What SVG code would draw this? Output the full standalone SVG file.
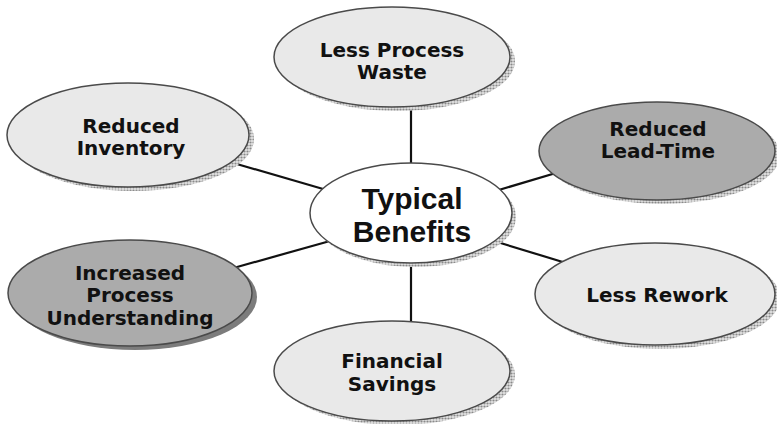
<svg xmlns="http://www.w3.org/2000/svg" width="777" height="424" viewBox="0 0 777 424">
  <defs>
    <pattern id="dots" width="3" height="3" patternUnits="userSpaceOnUse">
      <rect width="3" height="3" fill="#e4e4e4"/>
      <circle cx="1.5" cy="1.5" r="1.1" fill="#8a8a8a"/>
    </pattern>
    <style>
      .light { fill: #e9e9e9; stroke: #4a4a4a; stroke-width: 1.5; }
      .dark { fill: #ababab; stroke: #4a4a4a; stroke-width: 1.5; }
      .white { fill: #ffffff; stroke: #4a4a4a; stroke-width: 1.5; }
      .shadow { fill: url(#dots); stroke: none; }
      .solidshadow { fill: #7c7c7c; stroke: none; }
      .lbl { font-family: "DejaVu Sans", Verdana, sans-serif; font-weight: bold; font-size: 20px; fill: #111; text-anchor: middle; }
      .title { font-family: "Liberation Sans", Arial, sans-serif; font-weight: bold; font-size: 30px; fill: #111; text-anchor: middle; }
      .conn { stroke: #111; stroke-width: 2.2; fill: none; }
    </style>
  </defs>
  <rect width="777" height="424" fill="#ffffff"/>

  <g id="connectors">
    <line class="conn" x1="411" y1="100" x2="411" y2="170"/>
    <line class="conn" x1="411" y1="256" x2="411" y2="326"/>
    <line class="conn" x1="230" y1="162" x2="330" y2="191"/>
    <line class="conn" x1="492" y1="192" x2="566" y2="170"/>
    <line class="conn" x1="230" y1="269" x2="330" y2="241"/>
    <line class="conn" x1="494" y1="241" x2="566" y2="263"/>
  </g>

  <g id="center">
    <ellipse class="shadow" cx="415" cy="217" rx="101" ry="50"/>
    <ellipse class="white" cx="411" cy="213" rx="101" ry="50"/>
    <text class="title" x="412" y="209">Typical</text>
    <text class="title" x="412" y="242">Benefits</text>
  </g>

  <g id="less-process-waste">
    <ellipse class="shadow" cx="397" cy="61" rx="118" ry="50"/>
    <ellipse class="light" cx="392" cy="57" rx="118" ry="50"/>
    <text class="lbl" x="392" y="57">Less Process</text>
    <text class="lbl" x="392" y="79">Waste</text>
  </g>

  <g id="reduced-inventory">
    <ellipse class="shadow" cx="133" cy="139" rx="121" ry="52"/>
    <ellipse class="light" cx="128" cy="135" rx="121" ry="52"/>
    <text class="lbl" x="131" y="133">Reduced</text>
    <text class="lbl" x="131" y="155">Inventory</text>
  </g>

  <g id="reduced-lead-time">
    <ellipse class="shadow" cx="662" cy="155" rx="118" ry="49"/>
    <ellipse class="dark" cx="657" cy="151" rx="118" ry="49"/>
    <text class="lbl" x="658" y="136">Reduced</text>
    <text class="lbl" x="658" y="158">Lead-Time</text>
  </g>

  <g id="increased-process-understanding">
    <ellipse class="solidshadow" cx="135" cy="297" rx="122" ry="53"/>
    <ellipse class="dark" cx="130" cy="293" rx="122" ry="53"/>
    <text class="lbl" x="130" y="280">Increased</text>
    <text class="lbl" x="130" y="302">Process</text>
    <text class="lbl" x="130" y="325">Understanding</text>
  </g>

  <g id="less-rework">
    <ellipse class="shadow" cx="660" cy="298" rx="120" ry="51"/>
    <ellipse class="light" cx="655" cy="294" rx="120" ry="51"/>
    <text class="lbl" x="657" y="302">Less Rework</text>
  </g>

  <g id="financial-savings">
    <ellipse class="shadow" cx="397" cy="375" rx="118" ry="50"/>
    <ellipse class="light" cx="392" cy="371" rx="118" ry="50"/>
    <text class="lbl" x="392" y="368">Financial</text>
    <text class="lbl" x="392" y="391">Savings</text>
  </g>
</svg>
